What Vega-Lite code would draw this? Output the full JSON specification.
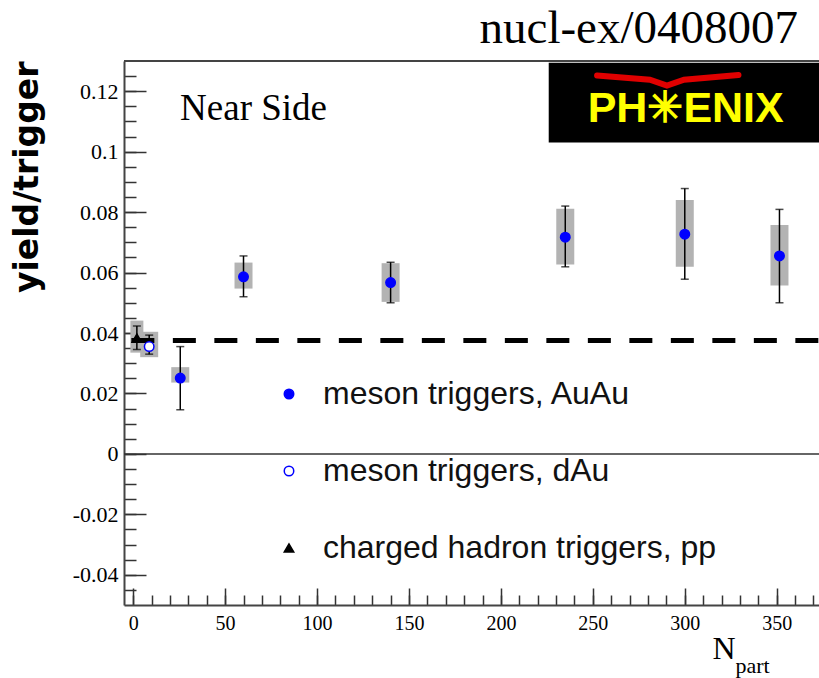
{
  "$schema": "https://vega.github.io/schema/vega-lite/v6.json",
  "width": 695,
  "height": 544,
  "autosize": {"type": "none"},
  "padding": {"left": 124, "top": 61, "right": 0, "bottom": 73},
  "background": "white",
  "config": {"view": {"stroke": null}},
  "datasets": {
    "pts": [
      {"series": "meson triggers, AuAu", "x": 25.6, "y": 0.0251, "lo": 0.0146, "hi": 0.0355, "slo": 0.0236, "shi": 0.0287},
      {"series": "meson triggers, AuAu", "x": 60, "y": 0.0586, "lo": 0.052, "hi": 0.0655, "slo": 0.0547, "shi": 0.0633},
      {"series": "meson triggers, AuAu", "x": 140, "y": 0.0567, "lo": 0.05, "hi": 0.0634, "slo": 0.0503, "shi": 0.0631},
      {"series": "meson triggers, AuAu", "x": 235, "y": 0.0717, "lo": 0.0619, "hi": 0.082, "slo": 0.0627, "shi": 0.0811},
      {"series": "meson triggers, AuAu", "x": 300, "y": 0.0727, "lo": 0.0578, "hi": 0.0878, "slo": 0.0619, "shi": 0.084},
      {"series": "meson triggers, AuAu", "x": 351.5, "y": 0.0655, "lo": 0.05, "hi": 0.0809, "slo": 0.0557, "shi": 0.0757},
      {"series": "meson triggers, dAu", "x": 8.7, "y": 0.0355, "lo": 0.033, "hi": 0.0393, "slo": 0.032, "shi": 0.0404},
      {"series": "charged hadron triggers, pp", "x": 2, "y": 0.0383, "lo": 0.0345, "hi": 0.0423, "slo": 0.0335, "shi": 0.0441}
    ],
    "swoosh": [
      {"x": 252.3, "y": 0.1252},
      {"x": 281, "y": 0.1238},
      {"x": 290.3, "y": 0.1219},
      {"x": 299.6, "y": 0.1238},
      {"x": 329.2, "y": 0.1254}
    ],
    "one": [{}]
  },
  "layer": [
    {
      "data": {"name": "pts"},
      "transform": [{"filter": "datum.series != 'charged hadron triggers, pp'"}],
      "mark": {"type": "bar", "width": 18, "color": "#b3b3b3"},
      "encoding": {
        "x": {"field": "x", "type": "quantitative", "scale": {"domain": [-5, 373], "nice": false, "zero": false, "padding": 0},
          "axis": {"orient": "bottom", "values": [0,10,20,30,40,50,60,70,80,90,100,110,120,130,140,150,160,170,180,190,200,210,220,230,240,250,260,270,280,290,300,310,320,330,340,350,360,370],
            "tickSize": -10, "tickWidth": 1.5, "tickColor": "#333", "labels": false, "domain": false, "grid": false,
            "title": "part", "titleFont": "Liberation Serif", "titleFontSize": 22, "titleFontWeight": "normal", "titleColor": "#000",
            "titleAlign": "left", "titleBaseline": "alphabetic", "titleX": 611, "titleY": 67}},
        "y": {"field": "slo", "type": "quantitative", "scale": {"domain": [-0.05, 0.13], "nice": false, "zero": false, "padding": 0},
          "axis": {"orient": "left", "values": [-0.045,-0.04,-0.035,-0.03,-0.025,-0.02,-0.015,-0.01,-0.005,0,0.005,0.01,0.015,0.02,0.025,0.03,0.035,0.04,0.045,0.05,0.055,0.06,0.065,0.07,0.075,0.08,0.085,0.09,0.095,0.1,0.105,0.11,0.115,0.12,0.125],
            "tickSize": -12, "tickWidth": 1.5, "tickColor": "#333", "labels": false, "domain": false, "grid": false, "title": null}},
        "y2": {"field": "shi"}
      }
    },
    {
      "data": {"name": "pts"},
      "transform": [{"filter": "datum.series == 'charged hadron triggers, pp'"}],
      "mark": {"type": "bar", "width": 13, "color": "#b3b3b3"},
      "encoding": {
        "x": {"field": "x", "type": "quantitative", "scale": {"domain": [-5, 373], "nice": false, "zero": false, "padding": 0}, "axis": null},
        "y": {"field": "slo", "type": "quantitative", "scale": {"domain": [-0.05, 0.13], "nice": false, "zero": false, "padding": 0}, "axis": null},
        "y2": {"field": "shi"}
      }
    },
    {
      "data": {"name": "one"},
      "mark": {"type": "rule", "color": "#333", "strokeWidth": 1.5},
      "encoding": {
        "x": {"datum": -5, "type": "quantitative", "scale": {"domain": [-5, 373], "nice": false, "zero": false, "padding": 0}, "axis": null},
        "x2": {"datum": 373},
        "y": {"datum": 0, "type": "quantitative", "scale": {"domain": [-0.05, 0.13], "nice": false, "zero": false, "padding": 0}, "axis": null}
      }
    },
    {
      "data": {"name": "one"},
      "mark": {"type": "rule", "color": "#444", "strokeWidth": 2},
      "encoding": {
        "x": {"datum": -5, "type": "quantitative", "scale": {"domain": [-5, 373], "nice": false, "zero": false, "padding": 0}, "axis": null},
        "x2": {"datum": 373},
        "y": {"datum": 0.13, "type": "quantitative", "scale": {"domain": [-0.05, 0.13], "nice": false, "zero": false, "padding": 0}, "axis": null}
      }
    },
    {
      "data": {"name": "one"},
      "mark": {"type": "rule", "color": "#000", "strokeWidth": 5, "strokeDash": [23, 18.5]},
      "encoding": {
        "x": {"datum": -1, "type": "quantitative", "scale": {"domain": [-5, 373], "nice": false, "zero": false, "padding": 0}, "axis": null},
        "x2": {"datum": 373},
        "y": {"datum": 0.0375, "type": "quantitative", "scale": {"domain": [-0.05, 0.13], "nice": false, "zero": false, "padding": 0}, "axis": null}
      }
    },
    {
      "data": {"name": "pts"},
      "mark": {"type": "rule", "color": "#000", "strokeWidth": 1.5},
      "encoding": {
        "x": {"field": "x", "type": "quantitative", "scale": {"domain": [-5, 373], "nice": false, "zero": false, "padding": 0}, "axis": null},
        "y": {"field": "lo", "type": "quantitative", "scale": {"domain": [-0.05, 0.13], "nice": false, "zero": false, "padding": 0}, "axis": null},
        "y2": {"field": "hi"}
      }
    },
    {
      "data": {"name": "pts"},
      "mark": {"type": "tick", "orient": "horizontal", "color": "#000", "size": 8, "thickness": 1.5},
      "encoding": {
        "x": {"field": "x", "type": "quantitative", "scale": {"domain": [-5, 373], "nice": false, "zero": false, "padding": 0}, "axis": null},
        "y": {"field": "lo", "type": "quantitative", "scale": {"domain": [-0.05, 0.13], "nice": false, "zero": false, "padding": 0}, "axis": null}
      }
    },
    {
      "data": {"name": "pts"},
      "mark": {"type": "tick", "orient": "horizontal", "color": "#000", "size": 8, "thickness": 1.5},
      "encoding": {
        "x": {"field": "x", "type": "quantitative", "scale": {"domain": [-5, 373], "nice": false, "zero": false, "padding": 0}, "axis": null},
        "y": {"field": "hi", "type": "quantitative", "scale": {"domain": [-0.05, 0.13], "nice": false, "zero": false, "padding": 0}, "axis": null}
      }
    },
    {
      "data": {"name": "pts"},
      "mark": {"type": "point", "filled": true, "size": 90, "strokeWidth": 1.5, "opacity": 1},
      "encoding": {
        "x": {"field": "x", "type": "quantitative", "scale": {"domain": [-5, 373], "nice": false, "zero": false, "padding": 0},
          "axis": {"orient": "bottom", "values": [0, 50, 100, 150, 200, 250, 300, 350], "format": "d",
            "tickSize": -17, "tickWidth": 1.5, "tickColor": "#333", "domainColor": "#444", "domainWidth": 2, "grid": false,
            "labelPadding": 25, "labelFont": "Liberation Serif", "labelFontSize": 20, "labelColor": "#000", "labelFlush": false, "labelOverlap": false,
            "title": "N", "titleFont": "Liberation Serif", "titleFontSize": 32, "titleFontWeight": "normal", "titleColor": "#000",
            "titleAlign": "left", "titleBaseline": "alphabetic", "titleX": 588, "titleY": 53}},
        "y": {"field": "y", "type": "quantitative", "scale": {"domain": [-0.05, 0.13], "nice": false, "zero": false, "padding": 0},
          "axis": {"orient": "left", "values": [-0.04, -0.02, 0, 0.02, 0.04, 0.06, 0.08, 0.1, 0.12],
            "labelExpr": "datum.value == 0 ? '0' : replace(format(datum.value, '.2~f'), '\u2212', '-')",
            "tickSize": -22, "tickWidth": 1.5, "tickColor": "#333", "domainColor": "#444", "domainWidth": 2, "grid": false,
            "labelPadding": 28, "labelFont": "Liberation Serif", "labelFontSize": 22, "labelColor": "#000", "labelFlush": false, "labelOverlap": false,
            "title": "yield/trigger", "titleFont": "DejaVu Sans", "titleFontWeight": "bold", "titleFontSize": 33, "titleColor": "#000",
            "titleAngle": -90, "titleAlign": "right", "titleBaseline": "middle", "titleX": -97, "titleY": 0}},
        "fill": {"field": "series", "type": "nominal",
          "scale": {"domain": ["meson triggers, AuAu", "meson triggers, dAu", "charged hadron triggers, pp"], "range": ["#0000ff", "#ffffff", "#000000"]},
          "legend": {"orient": "none", "legendX": 149, "legendY": 317, "title": null, "labelFont": "Liberation Sans", "labelFontSize": 32, "labelColor": "#111", "labelLimit": 0, "symbolSize": 90, "symbolStrokeWidth": 1.5, "rowPadding": 45, "labelOffset": 18, "padding": 0}},
        "stroke": {"field": "series", "type": "nominal",
          "scale": {"domain": ["meson triggers, AuAu", "meson triggers, dAu", "charged hadron triggers, pp"], "range": ["#0000ff", "#0000ff", "#000000"]},
          "legend": {"orient": "none", "legendX": 149, "legendY": 317, "title": null, "labelFont": "Liberation Sans", "labelFontSize": 32, "labelColor": "#111", "labelLimit": 0, "symbolSize": 90, "symbolStrokeWidth": 1.5, "rowPadding": 45, "labelOffset": 18, "padding": 0}},
        "shape": {"field": "series", "type": "nominal",
          "scale": {"domain": ["meson triggers, AuAu", "meson triggers, dAu", "charged hadron triggers, pp"], "range": ["circle", "circle", "triangle-up"]},
          "legend": {"orient": "none", "legendX": 149, "legendY": 317, "title": null, "labelFont": "Liberation Sans", "labelFontSize": 32, "labelColor": "#111", "labelLimit": 0, "symbolSize": 90, "symbolStrokeWidth": 1.5, "rowPadding": 45, "labelOffset": 18, "padding": 0}}
      }
    },
    {
      "data": {"name": "one"},
      "mark": {"type": "text", "text": "Near Side", "font": "Liberation Serif", "fontSize": 37, "color": "#000", "align": "left", "baseline": "alphabetic"},
      "encoding": {
        "x": {"datum": 25.5, "type": "quantitative", "scale": {"domain": [-5, 373], "nice": false, "zero": false, "padding": 0}, "axis": null},
        "y": {"datum": 0.1106, "type": "quantitative", "scale": {"domain": [-0.05, 0.13], "nice": false, "zero": false, "padding": 0}, "axis": null}
      }
    },
    {
      "data": {"name": "one"},
      "mark": {"type": "text", "text": "nucl-ex/0408007", "font": "Liberation Serif", "fontSize": 47, "color": "#000", "align": "right", "baseline": "alphabetic", "clip": false},
      "encoding": {
        "x": {"datum": 361.6, "type": "quantitative", "scale": {"domain": [-5, 373], "nice": false, "zero": false, "padding": 0}, "axis": null},
        "y": {"datum": 0.1359, "type": "quantitative", "scale": {"domain": [-0.05, 0.13], "nice": false, "zero": false, "padding": 0}, "axis": null}
      }
    },
    {
      "data": {"name": "one"},
      "mark": {"type": "rect", "color": "#000"},
      "encoding": {
        "x": {"datum": 226, "type": "quantitative", "scale": {"domain": [-5, 373], "nice": false, "zero": false, "padding": 0}, "axis": null},
        "x2": {"datum": 373},
        "y": {"datum": 0.103, "type": "quantitative", "scale": {"domain": [-0.05, 0.13], "nice": false, "zero": false, "padding": 0}, "axis": null},
        "y2": {"datum": 0.1294}
      }
    },
    {
      "data": {"name": "one"},
      "mark": {"type": "text", "text": "PH\u2733ENIX", "font": "Liberation Sans", "fontWeight": "bold", "fontSize": 43, "color": "#ffff00", "align": "center", "baseline": "alphabetic"},
      "encoding": {
        "x": {"datum": 300.5, "type": "quantitative", "scale": {"domain": [-5, 373], "nice": false, "zero": false, "padding": 0}, "axis": null},
        "y": {"datum": 0.1098, "type": "quantitative", "scale": {"domain": [-0.05, 0.13], "nice": false, "zero": false, "padding": 0}, "axis": null}
      }
    },
    {
      "data": {"name": "swoosh"},
      "mark": {"type": "line", "color": "#e00000", "strokeWidth": 6, "interpolate": "linear", "strokeCap": "round"},
      "encoding": {
        "x": {"field": "x", "type": "quantitative", "scale": {"domain": [-5, 373], "nice": false, "zero": false, "padding": 0}, "axis": null},
        "y": {"field": "y", "type": "quantitative", "scale": {"domain": [-0.05, 0.13], "nice": false, "zero": false, "padding": 0}, "axis": null}
      }
    }
  ],
  "resolve": {"axis": {"x": "independent", "y": "independent"}}
}
